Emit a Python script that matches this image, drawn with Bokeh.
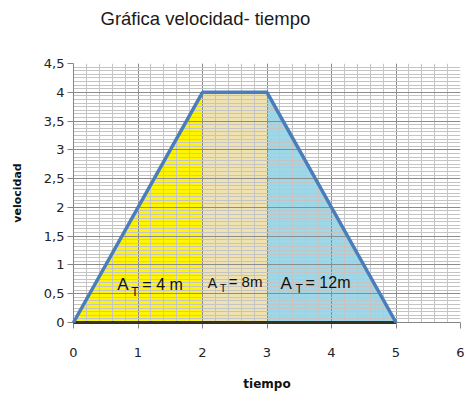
import numpy as np
from bokeh.plotting import figure
from bokeh.models import FixedTicker, Label, Title
from bokeh.embed import file_html
from bokeh.resources import INLINE

# ---- data ----
time = [0, 2, 3, 5]          # tiempo (s)
vel = [0, 4, 4, 0]           # velocidad (m/s)
x_ticks = [0, 1, 2, 3, 4, 5, 6]
x_tick_labels = ["0", "1", "2", "3", "4", "5", "6"]
y_ticks = [0, 0.5, 1, 1.5, 2, 2.5, 3, 3.5, 4, 4.5]
y_tick_labels = ["0", "0,5", "1", "1,5", "2", "2,5", "3", "3,5", "4", "4,5"]
area_labels = ["= 4 m", "= 8m", "= 12m"]
area_colors = ["#FFF500", "#EEE2B0", "#9ED8E8"]
title_text = "Gráfica  velocidad- tiempo"

TICK_FONT = "DejaVu Sans"

p = figure(width=465, height=394, x_range=(0, 6), y_range=(0, 4.5),
           output_backend="svg", toolbar_location=None,
           min_border_left=73, min_border_right=5, min_border_top=63, min_border_bottom=72)
p.background_fill_color = "white"
p.border_fill_color = "white"
p.outline_line_color = None

# fills
regions = [
    ([time[0], time[1], time[1]], [vel[0], vel[1], 0]),
    ([time[1], time[1], time[2], time[2]], [0, vel[1], vel[2], 0]),
    ([time[2], time[2], time[3]], [0, vel[2], vel[3]]),
]
for (xs, ys), c in zip(regions, area_colors):
    p.patch(xs, ys, fill_color=c, line_color=None, level="underlay")

# grids
minor_x = [float(v) for v in np.arange(0, 6.001, 0.2)]
minor_y = [float(v) for v in np.arange(0, 4.5001, 0.0625)]
p.xaxis.ticker = FixedTicker(ticks=x_ticks, minor_ticks=minor_x)
p.yaxis.ticker = FixedTicker(ticks=y_ticks, minor_ticks=minor_y)
p.xaxis.major_label_overrides = {t: l for t, l in zip(x_ticks, x_tick_labels)}
p.yaxis.major_label_overrides = {t: l for t, l in zip(y_ticks, y_tick_labels)}

for g in (p.xgrid, p.ygrid):
    g.grid_line_color = "#8c8c8c"
    g.grid_line_width = 1
    g.minor_grid_line_color = "#c4c4c4"
    g.minor_grid_line_width = 1
    g.level = "glyph"

# bottom dark edge and main line
p.line([time[0], time[-1]], [vel[0], vel[-1]], line_color="#33331f", line_width=3, level="overlay")
p.line(time, vel, line_color="#4A7EBB", line_width=3.5, level="overlay")

# axes
for ax in (p.xaxis, p.yaxis):
    ax.axis_line_color = "#868686"
    ax.major_tick_line_color = "#868686"
    ax.major_tick_in = 0
    ax.major_tick_out = 6
    ax.minor_tick_in = 0
    ax.minor_tick_out = 0
    ax.major_label_text_font = TICK_FONT
    ax.major_label_text_font_size = "13px"
    ax.major_label_text_color = "#222222"
    ax.axis_label_text_font = TICK_FONT
    ax.axis_label_text_font_style = "bold"
    ax.axis_label_text_color = "#111111"

p.xaxis.axis_label = "tiempo"
p.yaxis.axis_label = "velocidad"
p.xaxis.axis_label_text_font_size = "12px"
p.yaxis.axis_label_text_font_size = "11px"
p.xaxis.major_label_standoff = 19
p.xaxis.axis_label_standoff = 17
p.yaxis.major_label_standoff = 3
p.yaxis.axis_label_standoff = 17

# real title (outermost) and a blank spacer panel next to the frame
p.title.text = title_text
p.title.text_font = "Liberation Sans"
p.title.text_font_size = "18.5px"
p.title.text_font_style = "normal"
p.title.text_color = "#1a1a1a"
p.title.align = "left"
p.title.vertical_align = "middle"
p.title.offset = 27
p.title.standoff = 11
p.add_layout(Title(text=" ", text_font_size="10px", standoff=15), "above")

# area annotations: "A" + subscript "T" + text
# (x, y, A size, T x-offset, T y-offset, T size, text x-offset, text y-offset, text size)
label_pos = [
    (0.68, 0.66, 17, 14, -7, 12, 25, 0, 16),
    (2.08, 0.69, 14, 12, -5, 11, 21, 1, 15),
    (3.21, 0.68, 17, 15, -6, 12, 25, 1, 16),
]
for (x0, y0, fa, tx, ty, ft, sx, sy, fs), txt in zip(label_pos, area_labels):
    p.add_layout(Label(x=x0, y=y0, text="A", text_font="Liberation Sans",
                       text_font_size=f"{fa}px", text_baseline="middle", text_color="#111111"))
    p.add_layout(Label(x=x0, y=y0, x_offset=tx, y_offset=ty, text="T", text_font="Liberation Sans",
                       text_font_size=f"{ft}px", text_baseline="middle", text_color="#111111"))
    p.add_layout(Label(x=x0, y=y0, x_offset=sx, y_offset=sy, text=txt,
                       text_font="Liberation Sans", text_font_size=f"{fs}px",
                       text_baseline="middle", text_color="#111111"))

open("out.html", "w").write(file_html(p, INLINE))
